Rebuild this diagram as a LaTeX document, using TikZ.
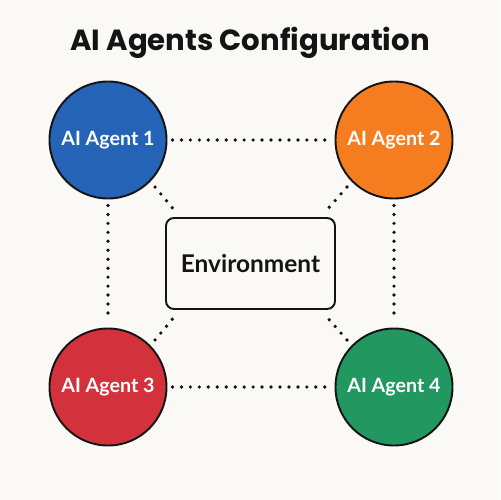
\documentclass[tikz,border=0pt]{standalone}
\usepackage{fontspec}
\setmainfont{Lato}
\newfontfamily\titlefont{Poppins}
\usetikzlibrary{calc}
\definecolor{bgc}{RGB}{250,249,246}
\definecolor{ablue}{RGB}{37,99,182}
\definecolor{aorange}{RGB}{245,125,32}
\definecolor{ared}{RGB}{211,50,60}
\definecolor{agreen}{RGB}{34,151,96}
\definecolor{ink}{RGB}{20,20,20}
\tikzset{
  agent/.style={circle, draw=ink, line width=1.1pt, minimum size=117\pxu, inner sep=0pt,
     text=white, font=\bfseries\fontsize{11.2}{13}\selectfont},
  dotline/.style={line width=2.1pt, line cap=round, dash pattern=on 0pt off 5.1pt, draw=ink},
}
\newlength\pxu
\setlength\pxu{0.02cm}
\begin{document}
\begin{tikzpicture}[x=0.02cm,y=-0.02cm]
\fill[bgc] (0,0) rectangle (500,500);
\useasboundingbox (0,0) rectangle (500,500);
\node[font=\titlefont\bfseries\fontsize{16.6}{20}\selectfont, text=ink] (title) at (250,43) {AI Agents Configuration};
\node[agent, fill=ablue] (a1) at (108,140) {AI Agent 1};
\node[agent, fill=aorange] (a2) at (394,140) {AI Agent 2};
\node[agent, fill=ared] (a3) at (108,387) {AI Agent 3};
\node[agent, fill=agreen] (a4) at (394,387) {AI Agent 4};
\node[draw=ink, line width=1.1pt, rounded corners=8\pxu, minimum width=169\pxu, minimum height=91\pxu,
      font=\bfseries\fontsize{13.9}{17}\selectfont, text=ink] (env) at (250.5,263.5) {Environment};
\draw[dotline] ([xshift=5\pxu]a1.east) -- ([xshift=-5\pxu]a2.west);
\draw[dotline] ([xshift=5\pxu]a3.east) -- ([xshift=-5\pxu]a4.west);
\draw[dotline] ([yshift=-6\pxu]a1.south) -- ([yshift=7\pxu]a3.north);
\draw[dotline] ([yshift=-6\pxu]a2.south) -- ([yshift=7\pxu]a4.north);
\draw[dotline] ([shift={(5\pxu,-5\pxu)}]a1.-45) -- ([shift={(10\pxu,6\pxu)}]env.north west);
\draw[dotline] ([shift={(-5\pxu,-5\pxu)}]a2.-135) -- ([shift={(-10\pxu,6\pxu)}]env.north east);
\draw[dotline] ([shift={(5\pxu,5\pxu)}]a3.45) -- ([shift={(10\pxu,-6\pxu)}]env.south west);
\draw[dotline] ([shift={(-5\pxu,5\pxu)}]a4.135) -- ([shift={(-10\pxu,-6\pxu)}]env.south east);
\end{tikzpicture}
\end{document}
